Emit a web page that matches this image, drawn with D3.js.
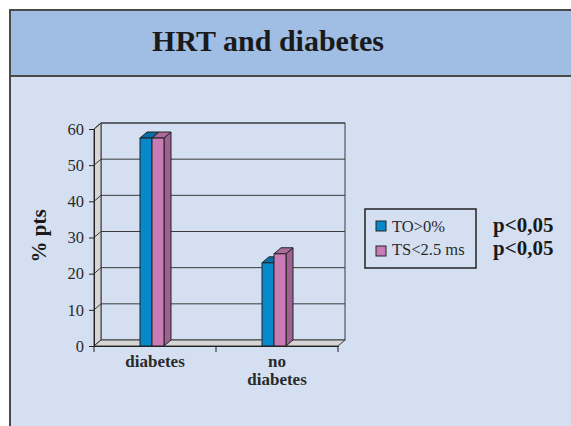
<!DOCTYPE html>
<html>
<head>
<meta charset="utf-8">
<script src="https://cdn.jsdelivr.net/npm/d3@7"></script>
<style>
  body { margin: 0; background: #ffffff; }
  svg { display: block; font-family: "Liberation Serif", "Times New Roman", serif; }
</style>
</head>
<body>
<div class="graph"></div>
<script>
// chart data
var categories = ["diabetes", "no diabetes"];
var seriesNames = ["TO>0%", "TS<2.5 ms"];
var toValues = [57.5, 23];
var tsValues = [57.5, 25.5];
var yTicks = [0, 10, 20, 30, 40, 50, 60];
var pValues = ["p<0,05", "p<0,05"];

var width = 571, height = 426;
var depthX = 7, depthY = -6;

var svg = d3.select(".graph").append("svg")
    .attr("width", width)
    .attr("height", height);

// panel + title band
svg.append("rect")
    .attr("x", 10).attr("y", 10)
    .attr("width", 580).attr("height", 440)
    .attr("fill", "#d4e0f2")
    .attr("stroke", "#4a4a4a").attr("stroke-width", 2);
svg.append("rect")
    .attr("x", 10).attr("y", 10)
    .attr("width", 580).attr("height", 66)
    .attr("fill", "#a0bde4")
    .attr("stroke", "#4a4a4a").attr("stroke-width", 2);
svg.append("text")
    .attr("x", 268).attr("y", 51)
    .attr("text-anchor", "middle")
    .attr("font-size", 30).attr("font-weight", "bold")
    .attr("fill", "#1a1a1a")
    .text("HRT and diabetes");

// scales
var x0 = d3.scaleBand().domain(categories).range([94, 338]);
var x1 = d3.scaleBand().domain(seriesNames).range([0, 24]);
var y = d3.scaleLinear().domain([0, 60]).range([346, 129]);

var x0Left = x0.range()[0], x0Right = x0.range()[1];
var g = svg.append("g");

// back wall
g.append("rect")
    .attr("x", x0Left + depthX).attr("y", y(60) + depthY)
    .attr("width", x0Right - x0Left).attr("height", y(0) - y(60))
    .attr("fill", "#d4e0f2")
    .attr("stroke", "#3a3a3a").attr("stroke-width", 1);

// left wall
g.append("path")
    .attr("d", "M" + x0Left + "," + y(0) + "L" + x0Left + "," + y(60) +
         "L" + (x0Left + depthX) + "," + (y(60) + depthY) +
         "L" + (x0Left + depthX) + "," + (y(0) + depthY) + "Z")
    .attr("fill", "#d6d6d6")
    .attr("stroke", "#3a3a3a").attr("stroke-width", 1);

// floor
g.append("path")
    .attr("d", "M" + x0Left + "," + y(0) + "L" + x0Right + "," + y(0) +
         "L" + (x0Right + depthX) + "," + (y(0) + depthY) +
         "L" + (x0Left + depthX) + "," + (y(0) + depthY) + "Z")
    .attr("fill", "#d6d6d6")
    .attr("stroke", "#3a3a3a").attr("stroke-width", 1);

// gridlines on back wall and left wall
yTicks.forEach(function(t) {
  if (t === 0) return;
  g.append("line")
      .attr("x1", x0Left + depthX).attr("x2", x0Right + depthX)
      .attr("y1", y(t) + depthY).attr("y2", y(t) + depthY)
      .attr("stroke", "#3a3a3a").attr("stroke-width", 1);
  g.append("line")
      .attr("x1", x0Left).attr("x2", x0Left + depthX)
      .attr("y1", y(t)).attr("y2", y(t) + depthY)
      .attr("stroke", "#3a3a3a").attr("stroke-width", 1);
});

// bars
var colors = {
  "TO>0%": {front: "#0788cb", top: "#066fa6", side: "#055e8f"},
  "TS<2.5 ms": {front: "#c97bb5", top: "#ad6b9d", side: "#9e6191"}
};
var barData = [];
categories.forEach(function(c, i) {
  barData.push({cat: c, s: seriesNames[0], v: toValues[i]});
  barData.push({cat: c, s: seriesNames[1], v: tsValues[i]});
});

barData.forEach(function(d) {
  var bx = x0(d.cat) + (x0.bandwidth() - 24) / 2 - 3 + x1(d.s);
  var bw = x1.bandwidth();
  var top = y(d.v), base = y(0);
  var c = colors[d.s];
  var bar = g.append("g");
  bar.append("path")
      .attr("d", "M" + (bx + bw) + "," + base + "L" + (bx + bw + depthX) + "," + (base + depthY) +
           "L" + (bx + bw + depthX) + "," + (top + depthY) + "L" + (bx + bw) + "," + top + "Z")
      .attr("fill", c.side).attr("stroke", "#222").attr("stroke-width", 1);
  bar.append("path")
      .attr("d", "M" + bx + "," + top + "L" + (bx + depthX) + "," + (top + depthY) +
           "L" + (bx + bw + depthX) + "," + (top + depthY) + "L" + (bx + bw) + "," + top + "Z")
      .attr("fill", c.top).attr("stroke", "#222").attr("stroke-width", 1);
  bar.append("rect")
      .attr("x", bx).attr("y", top)
      .attr("width", bw).attr("height", base - top)
      .attr("fill", c.front).attr("stroke", "#222").attr("stroke-width", 1);
});

// Y axis
var yAxis = g.append("g")
    .attr("transform", "translate(" + x0Left + ",0)")
    .call(d3.axisLeft(y).tickValues(yTicks).tickSize(5).tickPadding(5));
yAxis.select(".domain").attr("stroke", "#222");
yAxis.selectAll(".tick line").attr("stroke", "#222");
yAxis.selectAll("text")
    .attr("font-size", 16.5).attr("fill", "#2a2a2a")
    .attr("font-family", "Liberation Serif, serif");

// X axis
var xAxis = g.append("g")
    .attr("transform", "translate(0," + y(0) + ")")
    .call(d3.axisBottom(x0).tickSize(0).tickFormat(""));
xAxis.select(".domain").attr("stroke", "#222");
[x0Left, x0Left + x0.step(), x0Right].forEach(function(tx) {
  g.append("line")
      .attr("x1", tx).attr("x2", tx)
      .attr("y1", y(0)).attr("y2", y(0) + 6)
      .attr("stroke", "#222");
});
categories.forEach(function(c) {
  var words = c === "no diabetes" ? ["no", "diabetes"] : [c];
  var t = g.append("text")
      .attr("x", x0(c) + x0.bandwidth() / 2)
      .attr("y", 367)
      .attr("text-anchor", "middle")
      .attr("font-size", 17).attr("font-weight", "bold")
      .attr("fill", "#2a2a2a");
  words.forEach(function(w, i) {
    t.append("tspan")
        .attr("x", x0(c) + x0.bandwidth() / 2)
        .attr("dy", i === 0 ? 0 : 18)
        .text(w);
  });
});

// Y title
svg.append("text")
    .attr("transform", "translate(46,236) rotate(-90)")
    .attr("text-anchor", "middle")
    .attr("font-size", 21).attr("font-weight", "bold")
    .attr("fill", "#1a1a1a")
    .text("% pts");

// legend
var legend = svg.append("g");
legend.append("rect")
    .attr("x", 365).attr("y", 209)
    .attr("width", 111).attr("height", 59)
    .attr("fill", "#d4e0f2")
    .attr("stroke", "#222").attr("stroke-width", 1.5);
seriesNames.forEach(function(s, i) {
  legend.append("rect")
      .attr("x", 376).attr("y", 221 + i * 25)
      .attr("width", 10).attr("height", 10)
      .attr("fill", colors[s].front)
      .attr("stroke", "#222").attr("stroke-width", 1);
  legend.append("text")
      .attr("x", 392).attr("y", 232 + i * 23)
      .attr("font-size", 16.5).attr("fill", "#2a2a2a")
      .text(s);
  svg.append("text")
      .attr("x", 493).attr("y", 232 + i * 23)
      .attr("font-size", 21).attr("font-weight", "bold")
      .attr("fill", "#1a1a1a")
      .text(pValues[i]);
});
</script>
</body>
</html>
